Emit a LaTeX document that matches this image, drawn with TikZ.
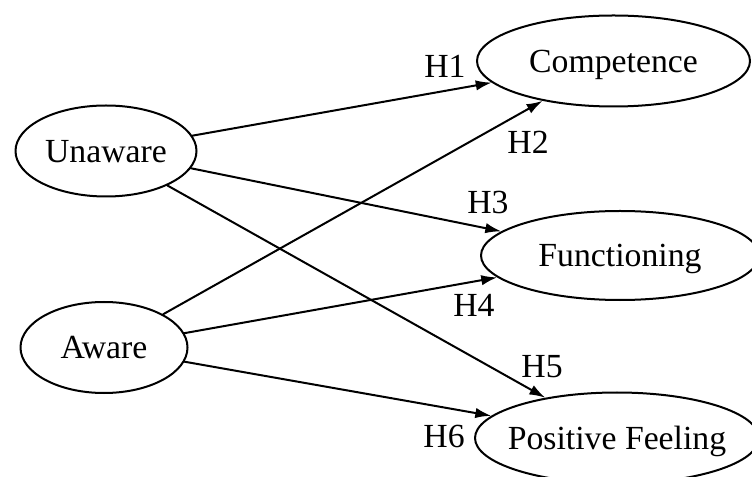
\documentclass[tikz,border=0pt]{standalone}
\usepackage{fontspec}
\setmainfont{Liberation Serif}
\usetikzlibrary{arrows.meta,shapes.geometric}

\begin{document}
\begin{tikzpicture}[
 x=.25mm,y=-.25mm,font=\fontsize{24}{28}\selectfont,
 line cap=round,line join=round,
 latent/.style={ellipse,draw=black,line width=.5mm,inner sep=0pt,
   text height=15.9pt,text depth=0pt,minimum height=22.75mm},
 path/.style={draw=black,line width=.5mm,-{Latex[length=4mm,width=2.6mm]}},
 hyp/.style={inner sep=0pt,anchor=center}]
\path[use as bounding box] (0,0) rectangle (752,477);

% exogenous
\node[latent,minimum width=45.25mm] (unaware) at (106,151) {\makebox[0pt]{Unaware}};
\node[latent,minimum width=41.75mm] (aware) at (104,347.5) {\makebox[0pt]{Aware}};

% outcomes
\node[latent,minimum width=68.25mm] (comp) at (613.5,61) {\makebox[0pt]{Competence}};
\node[latent,minimum width=69.5mm,minimum height=22.25mm] (func) at (620,255.5) {\makebox[0pt]{Functioning}};
\node[latent,minimum width=71mm] (feel) at (617,438) {\makebox[0pt]{Positive Feeling}};

\draw[path] (unaware) -- (comp);
\draw[path] (aware) -- (comp);
\draw[path] (unaware) -- (func);
\draw[path] (aware) -- (func);
\draw[path] (unaware) -- (feel);
\draw[path] (aware) -- (feel);

\node[hyp] (h1) at (445,66) {H1};
\node[hyp] (h2) at (528,142) {H2};
\node[hyp] (h3) at (488,202) {H3};
\node[hyp] (h4) at (474,305) {H4};
\node[hyp] (h5) at (542,367) {H5};
\node[hyp] (h6) at (444,436) {H6};
\end{tikzpicture}
\end{document}
